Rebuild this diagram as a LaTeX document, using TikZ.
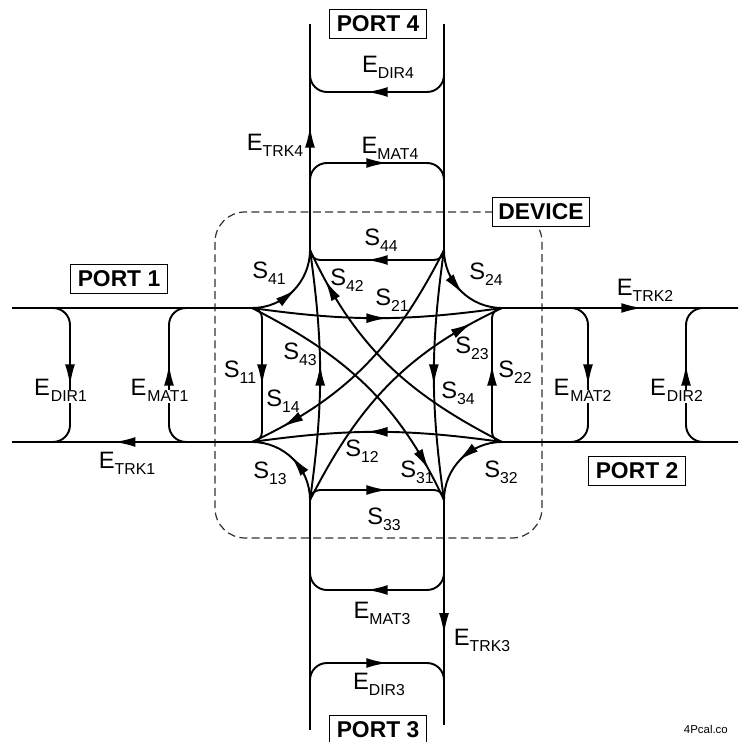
\documentclass[tikz,border=0pt]{standalone}
\usepackage{fontspec}
\setmainfont{Liberation Sans}
\usetikzlibrary{arrows.meta,decorations.markings}

\newcommand{\lb}[2]{#1\raisebox{-3.5pt}{\fontsize{9}{10}\selectfont#2}}
\newcommand{\lbw}[2]{#1\raisebox{-3.5pt}{\fontsize{9}{10}\selectfont\setlength{\fboxsep}{0.6pt}\colorbox{white}{#2}}}

\begin{document}
\begin{tikzpicture}[x=0.02cm,y=0.02cm,line width=1.1pt,
  midarr/.style={postaction={decorate},decoration={markings,
    mark=at position #1 with {\arrow[xshift=6pt]{Latex[length=12pt,width=5.6pt]}}}},
  midarr/.default=0.5,
  lab/.style={font=\fontsize{13.5}{15}\selectfont,inner sep=0.5pt},
  portbox/.style={draw,line width=0.9pt,fill=white,font=\fontsize{13}{15}\selectfont\bfseries,
    minimum width=1.94cm,minimum height=0.58cm,inner sep=0pt}]
  \useasboundingbox (-377,-367) rectangle (361,375);
  \clip (-377,-367) rectangle (361,375);

  % junctions of the device
  \coordinate (a1) at (-125,67);  \coordinate (b1) at (-125,-67);
  \coordinate (a2) at (125,-67);  \coordinate (b2) at (125,67);
  \coordinate (a3) at (-67,-125); \coordinate (b3) at (67,-125);
  \coordinate (a4) at (67,125);   \coordinate (b4) at (-67,125);

  % device outline
  \draw[line width=0.7pt,black!80,rounded corners=0.6cm,dash pattern=on 4.5pt off 2.5pt] (-162,163) rectangle (165,-163);
  \node[portbox] (dev) at (164,163) {DEVICE};

  % port 1
  \coordinate (p1t) at (-365,67);  \coordinate (p1b) at (-365,-67);
  \coordinate (d1t) at (-325,67);  \coordinate (d1b) at (-325,-67);
  \coordinate (m1t) at (-190,67);  \coordinate (m1b) at (-190,-67);
  \draw (p1t) -- (a1);
  \draw[midarr=0.53] (b1) -- (p1b);
  \draw[midarr,rounded corners=0.34cm] (d1t) -| (-307,0) |- (d1b);
  \draw[midarr,rounded corners=0.34cm] (m1b) -| (-208,0) |- (m1t);

  % port 2
  \coordinate (p2t) at (370,67);  \coordinate (p2b) at (370,-67);
  \coordinate (m2t) at (193,67);  \coordinate (m2b) at (193,-67);
  \coordinate (d2t) at (327,67);  \coordinate (d2b) at (327,-67);
  \draw[midarr=0.53] (b2) -- (p2t);
  \draw (p2b) -- (a2);
  \draw[midarr,rounded corners=0.34cm] (m2t) -| (211,0) |- (m2b);
  \draw[midarr,rounded corners=0.34cm] (d2b) -| (309,0) |- (d2t);

  % port 4
  \coordinate (p4l) at (-67,351);  \coordinate (p4r) at (67,351);
  \coordinate (d4l) at (-67,300);  \coordinate (d4r) at (67,300);
  \coordinate (m4l) at (-67,195);  \coordinate (m4r) at (67,195);
  \draw[midarr] (b4) -- (p4l);
  \draw (p4r) -- (a4);
  \draw[midarr,rounded corners=0.34cm] (d4r) |- (0,283) -| (d4l);
  \draw[midarr,rounded corners=0.34cm] (m4l) |- (0,212) -| (m4r);

  % port 3
  \coordinate (p3l) at (-67,-355);  \coordinate (p3r) at (67,-350);
  \coordinate (m3l) at (-67,-198);  \coordinate (m3r) at (67,-198);
  \coordinate (d3l) at (-67,-305);  \coordinate (d3r) at (67,-305);
  \draw (p3l) -- (a3);
  \draw[midarr=0.55] (b3) -- (p3r);
  \draw[midarr,rounded corners=0.34cm] (m3r) |- (0,-215) -| (m3l);
  \draw[midarr,rounded corners=0.34cm] (d3l) |- (0,-288) -| (d3r);

  % reflections
  \draw[midarr,rounded corners=0.2cm] (a1) -| (-115,0) |- (b1);
  \draw[midarr,rounded corners=0.2cm] (a2) -| (115,0) |- (b2);
  \draw[midarr,rounded corners=0.2cm] (a3) |- (0,-115) -| (b3);
  \draw[midarr,rounded corners=0.2cm] (a4) |- (0,115) -| (b4);

  % transmissions
  \draw[midarr] (a1) to[out=-8,in=188] (b2);
  \draw[midarr] (a2) to[out=172,in=8] (b1);
  \draw[midarr] (a3) to[out=82,in=-82] (b4);
  \draw[midarr] (a4) to[out=-98,in=98] (b3);
  \draw[midarr=0.42] (a1) to[out=0,in=-90] (b4);
  \draw[midarr=0.42] (a4) to[out=-90,in=180] (b2);
  \draw[midarr=0.42] (a2) to[out=180,in=90] (b3);
  \draw[midarr=0.42] (a3) to[out=90,in=0] (b1);
  \draw[midarr=0.84] (a1) to[out=-27,in=115] (b3);
  \draw[midarr=0.84] (a2) to[out=153,in=-65] (b4);
  \draw[midarr=0.84] (a4) to[out=-117,in=25] (b1);
  \draw[midarr=0.84] (a3) to[out=63,in=-155] (b2);

  % S labels
  \node[lab] (s41) at (-108,102) {\lb{S}{41}};
  \node[lab] (s42) at (-30,95) {\lb{S}{42}};
  \node[lab] (s43) at (-77,21) {\lb{S}{43}};
  \node[lab] (s44) at (4,135) {\lb{S}{44}};
  \node[lab] (s11) at (-137,3) {\lb{S}{11}};
  \node[lab] (s14) at (-94,-26) {\lb{S}{14}};
  \node[lab] (s13) at (-107,-98) {\lb{S}{13}};
  \node[lab] (s12) at (-15,-76) {\lb{S}{12}};
  \node[lab] (s21) at (15,75) {\lb{S}{21}};
  \node[lab] (s24) at (109,101) {\lb{S}{24}};
  \node[lab] (s23) at (95,27) {\lb{S}{23}};
  \node[lab] (s22) at (138,3) {\lb{S}{22}};
  \node[lab] (s34) at (81,-18) {\lb{S}{34}};
  \node[lab] (s31) at (40,-97) {\lb{S}{31}};
  \node[lab] (s32) at (124,-97) {\lb{S}{32}};
  \node[lab] (s33) at (7,-144) {\lb{S}{33}};

  % error term labels
  \node[lab] (etrk1) at (-250,-88) {\lb{E}{TRK1}};
  \node[lab] (edir1) at (-316,-16) {\lbw{E}{DIR1}};
  \node[lab] (emat1) at (-217,-16) {\lbw{E}{MAT1}};
  \node[lab] (etrk2) at (268,85) {\lb{E}{TRK2}};
  \node[lab] (emat2) at (206,-16) {\lbw{E}{MAT2}};
  \node[lab] (edir2) at (300,-16) {\lbw{E}{DIR2}};
  \node[lab] (edir4) at (11,308) {\lb{E}{DIR4}};
  \node[lab] (emat4) at (13,227) {\lb{E}{MAT4}};
  \node[lab] (etrk4) at (-102,230) {\lb{E}{TRK4}};
  \node[lab] (emat3) at (5,-238) {\lb{E}{MAT3}};
  \node[lab] (etrk3) at (105,-265) {\lb{E}{TRK3}};
  \node[lab] (edir3) at (2,-309) {\lb{E}{DIR3}};

  % ports
  \node[portbox] (port1) at (-258,96) {PORT 1};
  \node[portbox] (port2) at (260,-96) {PORT 2};
  \node[portbox] (port3) at (1,-355) {PORT 3};
  \node[portbox] (port4) at (1,351) {PORT 4};

  \node[anchor=west,font=\fontsize{6.5}{7}\selectfont,inner sep=0pt] (mark) at (306,-354) {4Pcal.co};
\end{tikzpicture}
\end{document}
